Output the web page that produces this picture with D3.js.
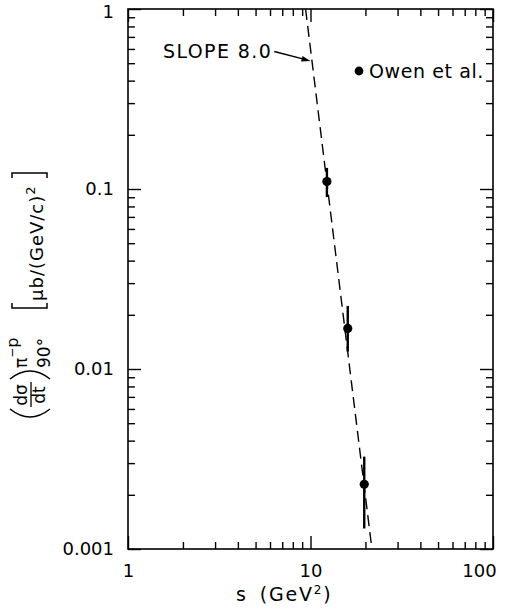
<!DOCTYPE html>
<html>
<head>
<meta charset="utf-8">
<script src="https://d3js.org/d3.v7.min.js"></script>
<style>
  body { margin: 0; background: #fff; }
  svg { display: block; }
</style>
</head>
<body>
<div id="chart"></div>
<script>
// data
var sVals = [12.3, 16.0, 19.7];
var dsdt = [0.110, 0.0168, 0.00229];
var errHi = [0.131, 0.0224, 0.00326];
var errLo = [0.0903, 0.0125, 0.0013];

// dashed "slope 8" line, end points
var fitS = [9.4, 21.7];
var fitY = [1, 0.001];

var xMajor = [1, 10, 100];
var xMajorLabels = ["1", "10", "100"];
var xMinor = [2, 3, 4, 5, 6, 7, 8, 9, 20, 30, 40, 50, 60, 70, 80, 90];
var yMajor = [0.001, 0.01, 0.1, 1];
var yMajorLabels = ["0.001", "0.01", "0.1", "1"];
var yMinor = [0.002, 0.003, 0.004, 0.005, 0.006, 0.007, 0.008, 0.009,
  0.02, 0.03, 0.04, 0.05, 0.06, 0.07, 0.08, 0.09,
  0.2, 0.3, 0.4, 0.5, 0.6, 0.7, 0.8, 0.9];

var margin = {top: 9, right: 16, bottom: 64, left: 128},
  width = 509 - margin.left - margin.right,
  height = 613 - margin.top - margin.bottom;

var font = "'DejaVu Sans', sans-serif";

var root = d3.select("#chart")
  .append("svg")
  .attr("width", 509)
  .attr("height", 613);

var svg = root.append("g")
  .attr("transform", "translate(" + margin.left + "," + margin.top + ")");

var x = d3.scaleLog().domain([1, 100]).range([0, width]);
var y = d3.scaleLog().domain([0.001, 1]).range([height, 0]);

function styleAxis(g) {
  g.select(".domain").remove();
  g.selectAll("line").attr("stroke", "#000").attr("stroke-width", 1.4);
  g.selectAll("text")
    .attr("font-family", font)
    .attr("font-size", 18)
    .attr("fill", "#000");
}

// minor ticks, all four sides, pointing in
svg.append("g").attr("transform", "translate(0," + height + ")")
  .call(d3.axisBottom(x).tickValues(xMinor).tickSize(-7).tickFormat(""))
  .call(styleAxis);
svg.append("g")
  .call(d3.axisTop(x).tickValues(xMinor).tickSize(-7).tickFormat(""))
  .call(styleAxis);
svg.append("g")
  .call(d3.axisLeft(y).tickValues(yMinor).tickSize(-7).tickFormat(""))
  .call(styleAxis);
svg.append("g").attr("transform", "translate(" + width + ",0)")
  .call(d3.axisRight(y).tickValues(yMinor).tickSize(-7).tickFormat(""))
  .call(styleAxis);

// major ticks + labels
var xAxis = svg.append("g").attr("transform", "translate(0," + height + ")")
  .call(d3.axisBottom(x).tickValues(xMajor).tickSize(-13).tickPadding(15)
    .tickFormat(function (d, i) { return xMajorLabels[i]; }))
  .call(styleAxis);
xAxis.selectAll("text").filter(function (d) { return d === 100; })
  .attr("dx", -14);
svg.append("g")
  .call(d3.axisTop(x).tickValues(xMajor).tickSize(-13).tickFormat(""))
  .call(styleAxis);
var yAxis = svg.append("g")
  .call(d3.axisLeft(y).tickValues(yMajor).tickSize(-13).tickPadding(14)
    .tickFormat(function (d, i) { return yMajorLabels[i]; }))
  .call(styleAxis);
yAxis.selectAll("text").filter(function (d) { return d === 1; })
  .attr("dy", "0.45em");
svg.append("g").attr("transform", "translate(" + width + ",0)")
  .call(d3.axisRight(y).tickValues(yMajor).tickSize(-13).tickFormat(""))
  .call(styleAxis);

// frame
svg.append("rect")
  .attr("width", width)
  .attr("height", height)
  .attr("fill", "none")
  .attr("stroke", "#000")
  .attr("stroke-width", 1.6);

// dashed line
var fit = fitS.map(function (s, i) { return {s: s, v: fitY[i]}; });
svg.append("path")
  .datum(fit)
  .attr("d", d3.line().x(function (d) { return x(d.s); }).y(function (d) { return y(d.v); }))
  .attr("fill", "none")
  .attr("stroke", "#000")
  .attr("stroke-width", 1.4)
  .attr("stroke-dasharray", "11,6");

// data points with error bars
var points = sVals.map(function (s, i) {
  return {s: s, v: dsdt[i], hi: errHi[i], lo: errLo[i]};
});

svg.selectAll(".err")
  .data(points)
  .enter()
  .append("line")
  .attr("class", "err")
  .attr("x1", function (d) { return x(d.s); })
  .attr("x2", function (d) { return x(d.s); })
  .attr("y1", function (d) { return y(d.hi); })
  .attr("y2", function (d) { return y(d.lo); })
  .attr("stroke", "#000")
  .attr("stroke-width", 2.4);

svg.selectAll(".pt")
  .data(points)
  .enter()
  .append("circle")
  .attr("class", "pt")
  .attr("cx", function (d) { return x(d.s); })
  .attr("cy", function (d) { return y(d.v); })
  .attr("r", 4.6)
  .attr("fill", "#000");

// "SLOPE 8.0" label with arrow to the line
var slope = svg.append("text")
  .attr("x", 35)
  .attr("y", 49)
  .attr("font-family", font)
  .attr("font-size", 19)
  .attr("letter-spacing", 1.4)
  .text("SLOPE 8.0");

var textEnd = 35 + slope.node().getComputedTextLength();
var tipY = 52;
var t = (Math.log(y.invert(tipY)) - Math.log(fitY[0])) / (Math.log(fitY[1]) - Math.log(fitY[0]));
var tipS = Math.exp(Math.log(fitS[0]) + t * (Math.log(fitS[1]) - Math.log(fitS[0])));
var tipX = x(tipS) - 1.5;
var startX = textEnd + 2, startY = 42.5;
var ang = Math.atan2(tipY - startY, tipX - startX);
svg.append("line")
  .attr("x1", startX).attr("y1", startY)
  .attr("x2", tipX - 6 * Math.cos(ang)).attr("y2", tipY - 6 * Math.sin(ang))
  .attr("stroke", "#000")
  .attr("stroke-width", 1.3);
var hl = 9, hw = 2.8;
svg.append("path")
  .attr("d", "M" + tipX + "," + tipY +
    "L" + (tipX - hl * Math.cos(ang) + hw * Math.sin(ang)) + "," + (tipY - hl * Math.sin(ang) - hw * Math.cos(ang)) +
    "L" + (tipX - hl * Math.cos(ang) - hw * Math.sin(ang)) + "," + (tipY - hl * Math.sin(ang) + hw * Math.cos(ang)) + "Z")
  .attr("fill", "#000");

// legend
var legend = svg.append("g").attr("transform", "translate(231,62)");
legend.append("circle").attr("r", 4.4).attr("fill", "#000");
legend.append("text")
  .attr("x", 10)
  .attr("y", 6.5)
  .attr("font-family", font)
  .attr("font-size", 19)
  .attr("letter-spacing", 0.6)
  .text("Owen et al.");

// x axis title
var xt = root.append("text")
  .attr("x", 236)
  .attr("y", 601)
  .attr("font-family", font)
  .attr("font-size", 19)
  .attr("letter-spacing", 1.8);
xt.append("tspan").text("s");
xt.append("tspan").attr("dx", 12).text("(GeV");
xt.append("tspan").attr("font-size", 12).attr("dy", -7).text("2");
xt.append("tspan").attr("dy", 7).text(")");

// y axis title, rotated
var yl = root.append("g").attr("transform", "rotate(-90)")
  .attr("font-family", font)
  .attr("fill", "#000");

yl.append("path").attr("d", "M-409,10Q-425,30 -409,50")
  .attr("fill", "none").attr("stroke", "#000").attr("stroke-width", 1.5);
yl.append("path").attr("d", "M-379,10Q-363,30 -379,50")
  .attr("fill", "none").attr("stroke", "#000").attr("stroke-width", 1.5);
yl.append("text").attr("x", -395).attr("y", 27).attr("font-size", 17)
  .attr("text-anchor", "middle").text("dσ");
yl.append("line").attr("x1", -407).attr("x2", -382).attr("y1", 31).attr("y2", 31)
  .attr("stroke", "#000").attr("stroke-width", 1.3);
yl.append("text").attr("x", -395).attr("y", 45).attr("font-size", 17)
  .attr("text-anchor", "middle").text("dt");

var sup = yl.append("text").attr("x", -368).attr("y", 27).attr("font-size", 17);
sup.append("tspan").text("π");
sup.append("tspan").attr("font-size", 12).attr("dy", -11).text("−");
sup.append("tspan").attr("font-size", 16).attr("dy", 2).text("p");
yl.append("text").attr("x", -368).attr("y", 50).attr("font-size", 17).text("90°");

yl.append("path").attr("d", "M-303,12L-308,12L-308,47L-303,47")
  .attr("fill", "none").attr("stroke", "#000").attr("stroke-width", 1.5);
yl.append("path").attr("d", "M-178,12L-173,12L-173,47L-178,47")
  .attr("fill", "none").attr("stroke", "#000").attr("stroke-width", 1.5);
var unit = yl.append("text").attr("x", -301).attr("y", 43).attr("font-size", 18)
  .attr("letter-spacing", 1);
unit.append("tspan").text("μb/(GeV/c)");
unit.append("tspan").attr("font-size", 13).attr("dy", -8).text("2");
</script>
</body>
</html>
